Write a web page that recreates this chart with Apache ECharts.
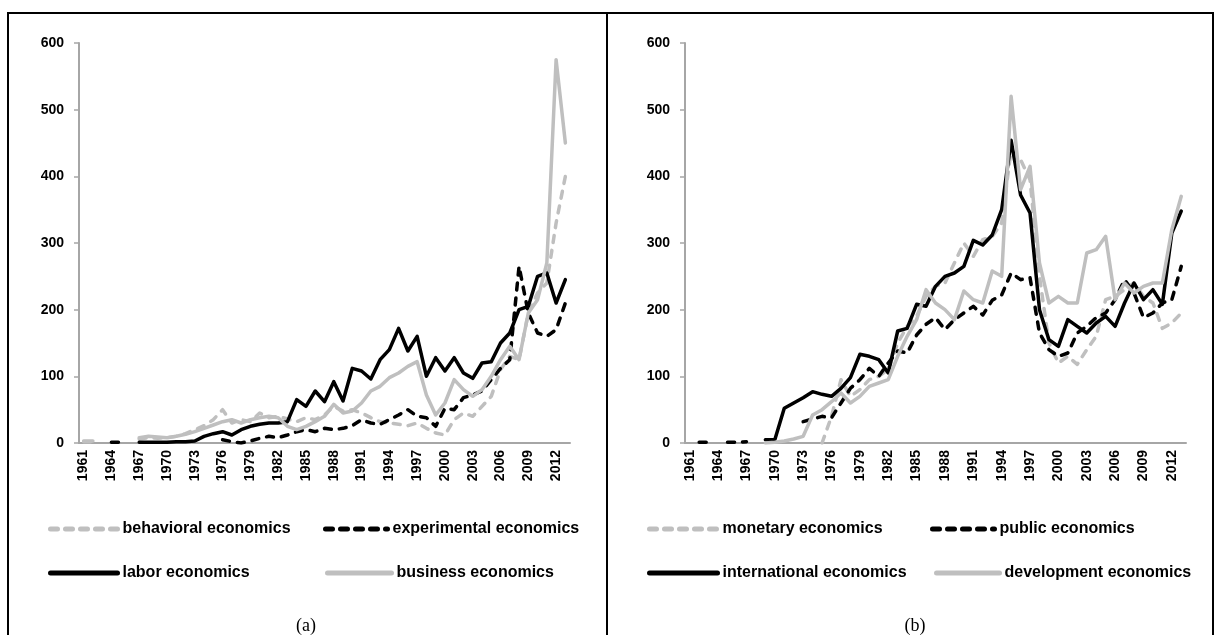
<!DOCTYPE html>
<html>
<head>
<meta charset="utf-8">
<script src="https://cdn.jsdelivr.net/npm/echarts@6/dist/echarts.min.js"></script>
<style>
  html, body { margin: 0; padding: 0; background: #fff; }
  #main { width: 1215px; height: 635px; }
</style>
</head>
<body>
<div id="main"></div>
<script>
// year categories 1961..2013
var years = [];
for (var y = 1961; y <= 2013; y++) years.push(String(y));

var yTicks = [0, 100, 200, 300, 400, 500, 600];

// panel (a)
var behavioral = [2, 2, null, null, null, null, 6, 8, 7, 8, 10, 14, 20, 26, 35, 50, 30, 35, 32, 45,
  38, 40, 36, 32, 38, 35, 42, 55, 48, 50, 45, 38, 32, 30, 28, 26, 30, 22, 15, 12,
  35, 45, 40, 55, 70, 110, 130, 125, 195, 225, 240, 330, 400];
var experimental = [null, null, null, 1, 1, null, null, null, null, null, null, null, null, null, null, 5, 2, 0, 3, 7,
  10, 8, 12, 17, 20, 17, 22, 20, 22, 26, 35, 30, 28, 35, 42, 50, 40, 38, 25, 52,
  50, 68, 72, 78, 95, 112, 125, 265, 195, 165, 160, 170, 210];
var labor = [null, null, null, null, null, null, 1, 1, 1, 1, 2, 2, 3, 10, 14, 17, 12, 20, 25, 28,
  30, 30, 32, 65, 55, 78, 62, 92, 63, 112, 108, 96, 125, 140, 172, 138, 160, 100, 128, 108,
  128, 105, 97, 120, 122, 150, 165, 200, 205, 250, 255, 210, 245];
var business = [3, 3, null, null, null, null, 8, 10, 9, 8, 10, 13, 17, 22, 27, 32, 35, 30, 35, 38,
  40, 38, 25, 20, 25, 32, 40, 58, 45, 48, 60, 78, 85, 98, 105, 115, 122, 72, 42, 60,
  95, 80, 70, 80, 100, 125, 145, 125, 195, 215, 270, 575, 450];

// panel (b)
var monetary = [null, null, null, null, null, null, null, null, null, null, null, null, null, null, 0, 40, 95, 70, 80, 95,
  100, 110, 150, 175, 190, 220, 235, 240, 270, 300, 280, 305, 310, 330, 440, 425, 395, 250, 150, 120,
  130, 118, 140, 160, 215, 220, 230, 240, 220, 210, 172, 180, 195];
var publicEc = [null, 1, 1, null, 1, 1, 2, null, null, null, null, null, 32, 36, 40, 38, 60, 82, 95, 112,
  100, 120, 138, 135, 162, 178, 188, 170, 185, 195, 205, 192, 214, 222, 255, 245, 248, 165, 140, 130,
  135, 165, 175, 188, 195, 215, 245, 225, 188, 195, 210, 215, 265];
var international = [null, null, null, null, null, null, null, null, 5, 5, 52, 60, 68, 77, 73, 70, 82, 98, 133, 130,
  125, 105, 168, 172, 208, 205, 235, 250, 255, 265, 304, 297, 312, 350, 454, 372, 345, 200, 155, 145,
  185, 175, 165, 180, 190, 175, 210, 240, 215, 230, 208, 315, 348];
var development = [null, null, null, null, null, null, null, null, 0, 1, 3, 6, 10, 42, 50, 62, 75, 60, 70, 85,
  90, 95, 130, 160, 185, 230, 210, 200, 185, 228, 215, 210, 258, 250, 520, 380, 415, 270, 210, 220,
  210, 210, 285, 290, 310, 215, 240, 225, 235, 240, 240, 320, 370];

var BLACK = '#000000';
var GREY = '#bfbfbf';
var AXIS = '#a6a6a6';
var FONT = "'Liberation Sans', Arial, sans-serif";

function xAx(idx) {
  return {
    gridIndex: idx,
    type: 'category',
    data: years,
    boundaryGap: true,
    axisLine: { lineStyle: { color: AXIS, width: 2 } },
    axisTick: { interval: 0, length: 6, lineStyle: { color: AXIS, width: 1.5 } },
    axisLabel: { interval: 2, rotate: 90, color: '#000', fontWeight: 'bold', fontSize: 14, fontFamily: FONT, margin: 7 }
  };
}
function yAx(idx) {
  return {
    gridIndex: idx,
    type: 'value',
    min: yTicks[0],
    max: yTicks[yTicks.length - 1],
    interval: 100,
    splitLine: { show: false },
    axisLine: { show: true, lineStyle: { color: AXIS, width: 2 } },
    axisTick: { show: true, length: 5, lineStyle: { color: AXIS, width: 1.5 } },
    axisLabel: { color: '#000', fontWeight: 'bold', fontSize: 14, fontFamily: FONT, margin: 15 }
  };
}
function ln(name, data, color, dashed, idx) {
  return {
    name: name,
    type: 'line',
    xAxisIndex: idx,
    yAxisIndex: idx,
    data: data,
    symbol: 'none',
    connectNulls: false,
    animation: false,
    lineStyle: {
      color: color,
      width: 3.5,
      type: dashed ? [7, 8] : 'solid',
      cap: 'round',
      join: 'round'
    },
    itemStyle: { color: color }
  };
}
function lg(name, left, top, w) {
  return {
    data: [name],
    left: left,
    top: top,
    padding: 0,
    itemWidth: w,
    itemHeight: 12,
    itemGap: 5,
    itemStyle: { color: 'transparent', opacity: 0, borderWidth: 0 },
    lineStyle: { width: 5 },
    textStyle: { color: '#000', fontSize: 16, fontWeight: 'bold', fontFamily: FONT },
    selectedMode: false
  };
}

var chart = echarts.init(document.getElementById('main'));
var option = {
  backgroundColor: '#fff',
  animation: false,
  grid: [
    { left: 79, top: 43, width: 491, height: 400 },
    { left: 685, top: 43, width: 501, height: 400 }
  ],
  xAxis: [xAx(0), xAx(1)],
  yAxis: [yAx(0), yAx(1)],
  legend: [
    lg('behavioral economics', 48, 521, 67),
    lg('experimental economics', 323, 521, 62),
    lg('labor economics', 48, 565, 67),
    lg('business economics', 325, 565, 64),
    lg('monetary economics', 647, 521, 68),
    lg('public economics', 930, 521, 62),
    lg('international economics', 647, 565, 68),
    lg('development economics', 934, 565, 63)
  ],
  title: [
    { text: '(a)', left: 301, top: 612, textAlign: 'center', textStyle: { fontFamily: 'Liberation Serif', fontWeight: 'normal', fontSize: 18, color: '#000' } },
    { text: '(b)', left: 910, top: 612, textAlign: 'center', textStyle: { fontFamily: 'Liberation Serif', fontWeight: 'normal', fontSize: 18, color: '#000' } }
  ],
  graphic: [
    { type: 'rect', shape: { x: 8, y: 13, width: 599, height: 640 }, style: { fill: 'none', stroke: '#000', lineWidth: 2 } },
    { type: 'rect', shape: { x: 607, y: 13, width: 606, height: 640 }, style: { fill: 'none', stroke: '#000', lineWidth: 2 } }
  ],
  series: [
    ln('behavioral economics', behavioral, GREY, true, 0),
    ln('experimental economics', experimental, BLACK, true, 0),
    ln('labor economics', labor, BLACK, false, 0),
    ln('business economics', business, GREY, false, 0),
    ln('monetary economics', monetary, GREY, true, 1),
    ln('public economics', publicEc, BLACK, true, 1),
    ln('international economics', international, BLACK, false, 1),
    ln('development economics', development, GREY, false, 1)
  ]
};
chart.setOption(option);
</script>
</body>
</html>
